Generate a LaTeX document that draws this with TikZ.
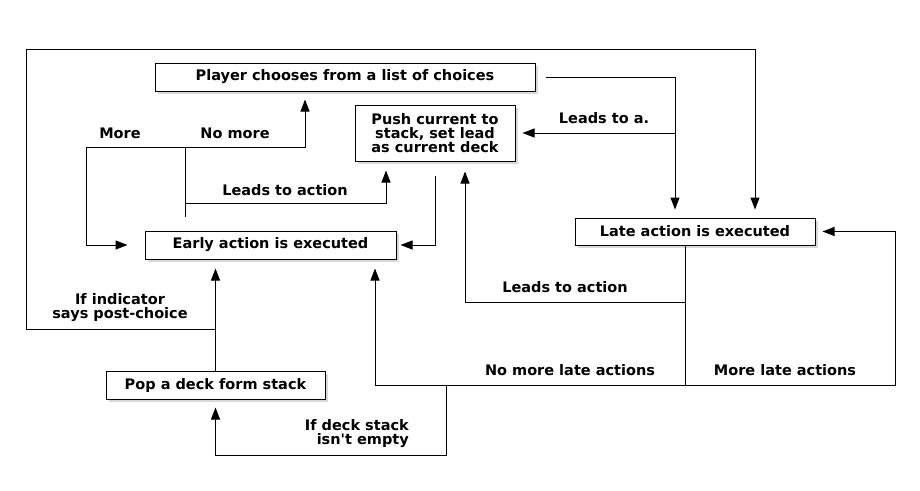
\documentclass[tikz,border=0pt]{standalone}
\usepackage{fontspec}
\setmainfont{DejaVu Sans}
\usetikzlibrary{arrows.meta}
\usetikzlibrary{shadows}
\tikzset{>={Triangle[length=12pt,width=9pt]}}
\tikzset{stepbox/.style={rectangle, draw, fill=white, line width=1pt, inner sep=0pt, align=center,
        drop shadow={shadow xshift=2.5pt, shadow yshift=-2.5pt, opacity=0.3, fill=gray}}}
\tikzset{label/.style={inner sep=0pt, align=center}}
\tikzset{link/.style={draw, line width=1pt}}

\begin{document}
\begin{tikzpicture}[x=1pt, y=-1pt,
        every node/.style={font=\fontsize{14.5}{14}\selectfont\bfseries}
    ]
    \useasboundingbox (0,0) rectangle (920,490);

    % boxes
    \node [stepbox, minimum width=380pt, minimum height=28pt] (player) at (345,77) {Player chooses from a list of choices};
    \node [stepbox, minimum width=160pt, minimum height=56pt] (push) at (435,133) {Push current to\\stack, set lead\\as current deck};
    \node [stepbox, minimum width=251pt, minimum height=28pt] (early) at (270.5,245) {Early action is executed};
    \node [stepbox, minimum width=240pt, minimum height=27pt] (late) at (695,231.5) {Late action is executed};
    \node [stepbox, minimum width=219pt, minimum height=28pt] (pop) at (215.5,385) {Pop a deck form stack};

    % junctions
    \coordinate (jearly) at (185,147);
    \coordinate (jmore) at (86,147);
    \coordinate (jnomore) at (305,147);
    \coordinate (jlead) at (185,203);
    \coordinate (jpush) at (386,203);
    \coordinate (jplayer) at (675,77);
    \coordinate (jleadsa) at (675,133);
    \coordinate (jlate) at (685,302);
    \coordinate (jlatepush) at (465,302);
    \coordinate (jbottom) at (685,385);
    \coordinate (jnolate) at (375,385);
    \coordinate (jmorelate) at (895,385);
    \coordinate (jdeck) at (446,385);
    \coordinate (jdeckdown) at (446,455);
    \coordinate (jpost) at (215.5,329);
    \coordinate (jloopa) at (26,329);
    \coordinate (jloopb) at (755,49);

    % connectors
    \draw [link, shorten <=14pt] (early.north -| jearly) -- (jearly);
    \draw [link, ->, shorten >=17pt] (jearly) -- (jmore) |- (early.west);
    \draw [link, ->, shorten >=8pt] (jearly) -- (jnomore) -- (jnomore |- player.south);
    \draw [link, ->, shorten >=9pt] (jlead) -- (jpush) -- (jpush |- push.south);
    \draw [link, ->, shorten <=14pt, shorten >=4pt] (push.south) |- (early.east);
    \draw [link, ->, shorten <=10pt, shorten >=8pt] (player.east) -- (jplayer) -- (jplayer |- late.north);
    \draw [link, ->, shorten >=7pt] (jleadsa) -- (push.east);
    \draw [link, ->, shorten >=10pt] (late.south -| jlate) -- (jlate) -- (jlatepush) -- (jlatepush |- push.south);
    \draw [link] (jlate) -- (jbottom);
    \draw [link, ->, shorten >=9pt] (jbottom) -- (jnolate) -- (jnolate |- early.south);
    \draw [link, ->, shorten >=7pt] (jbottom) -- (jmorelate) |- (late.east);
    \draw [link, ->, shorten >=8pt] (jdeck) -- (jdeckdown) -| (pop.south);
    \draw [link, ->, shorten >=9pt] (pop.north) -- (pop.north |- early.south);
    \draw [link, ->, shorten >=8pt] (jpost) -- (jloopa) |- (jloopb) -- (jloopb |- late.north);

    % labels
    \node [label] (lmore) at (120,133) {More};
    \node [label] (lnomore) at (235,133) {No more};
    \node [label] (lleadtop) at (285,190) {Leads to action};
    \node [label] (lleadsa) at (604,118) {Leads to a.};
    \node [label] (lpost) at (120,308) {If indicator\\says post-choice};
    \node [label, align=right, anchor=east] (ldeck) at (409,434) {If deck stack\\isn\textquotesingle t empty};
    \node [label] (lleadlow) at (565,287) {Leads to action};
    \node [label] (lnolate) at (570,370) {No more late actions};
    \node [label] (lmorelate) at (785,370) {More late actions};

\end{tikzpicture}
\end{document}
